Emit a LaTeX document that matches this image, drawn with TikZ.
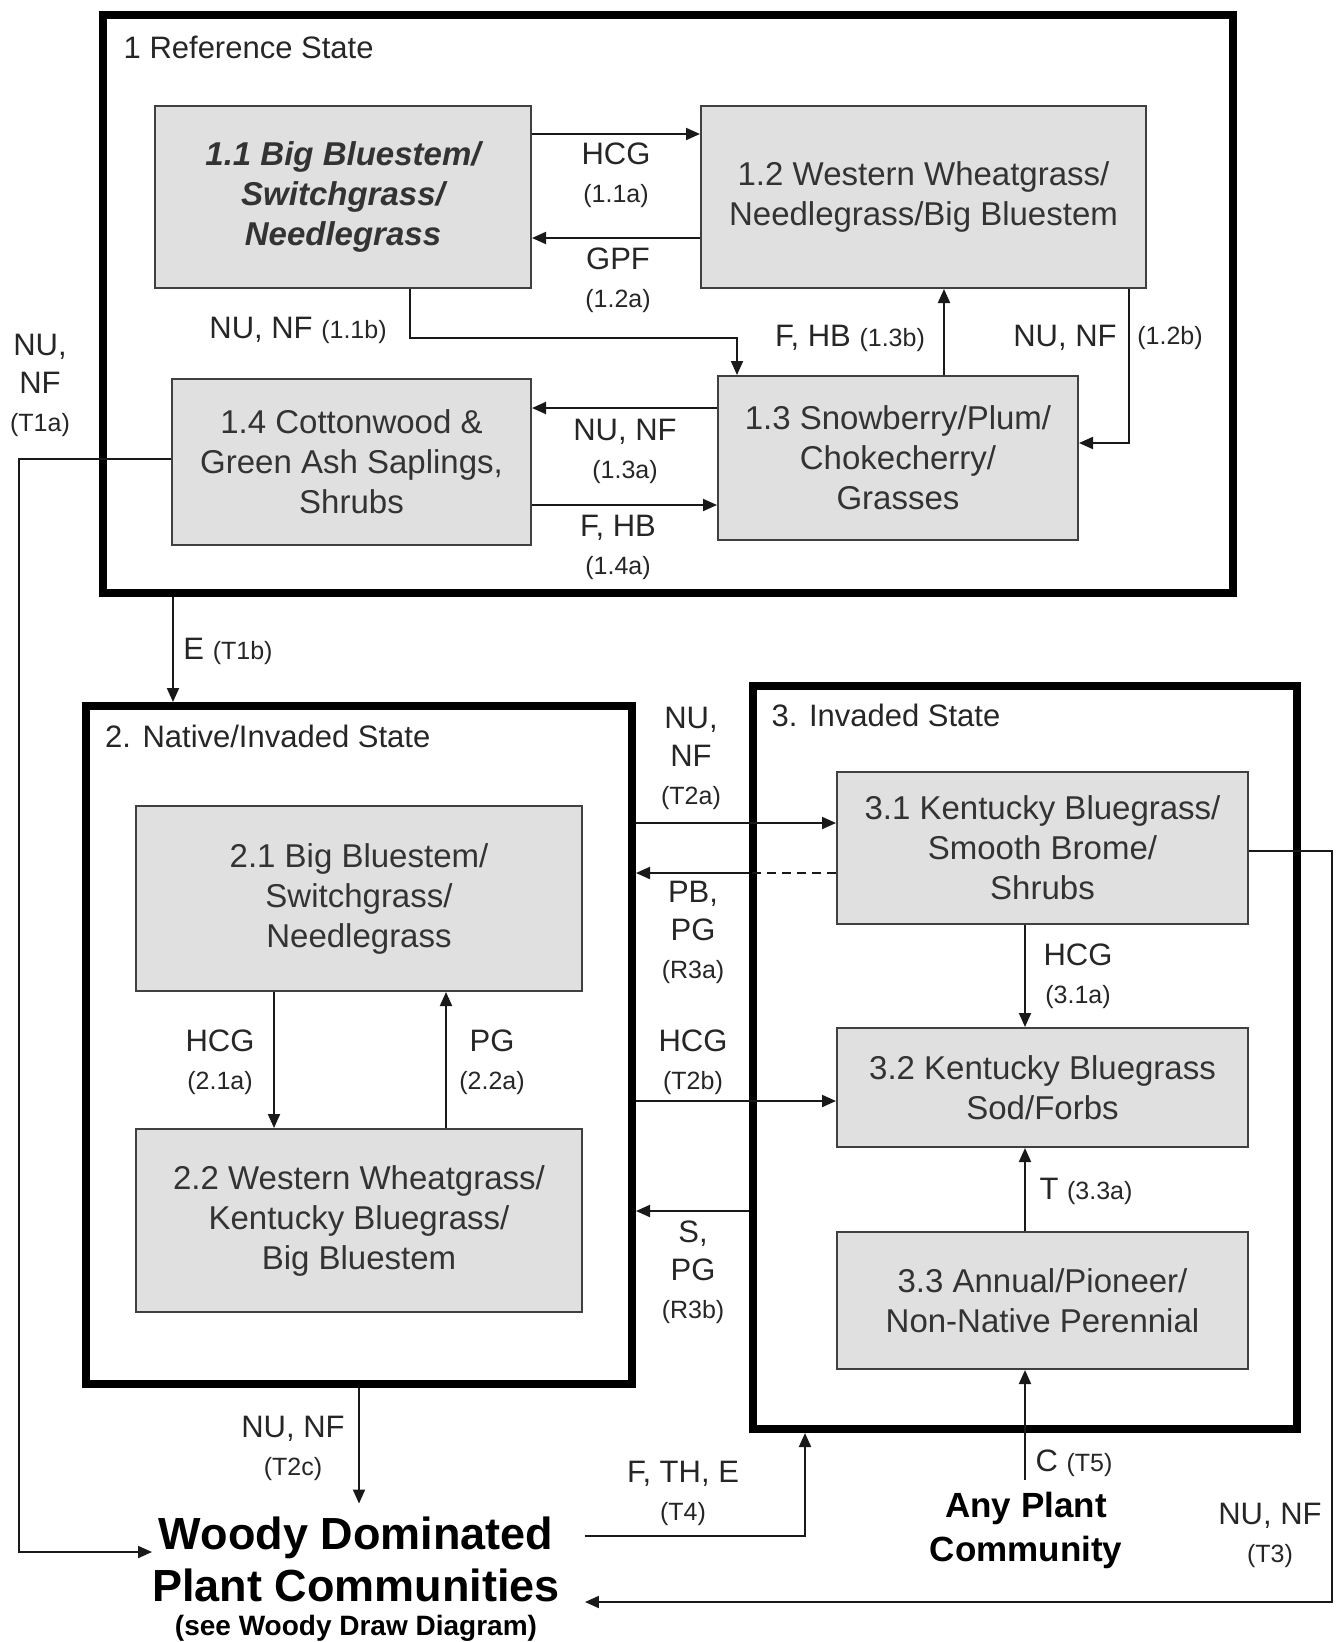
\documentclass[tikz,border=0pt]{standalone}
\usepackage{fontspec}
\setmainfont{Liberation Sans}
\usepackage{tikz}
\usetikzlibrary{arrows.meta}
\definecolor{boxgray}{RGB}{224,224,224}
\newcommand{\pcode}[1]{{\fontsize{25}{30}\selectfont #1}}
\tikzstyle{edge}=[
	-,
	draw=black!90,
	line width=2pt
]
\tikzstyle{trans}=[
	edge,
	-{Triangle[length=14pt,width=12pt]}
]
\tikzstyle{statebox}=[
	rectangle,
	draw=black,
	line width=8pt,
	inner sep=0pt
]
\tikzstyle{community}=[
	rectangle,
	draw=black!75,
	line width=2pt,
	fill=boxgray,
	align=center,
	text=black!80,
	font=\fontsize{33}{40}\selectfont
]
\tikzstyle{lbl}=[
	align=center,
	inner sep=0pt,
	text=black!85,
	font=\fontsize{31}{38}\selectfont
]
\tikzstyle{statetitle}=[
	anchor=west,
	inner sep=0pt,
	text=black!85,
	font=\fontsize{31}{38}\selectfont
]
\begin{document}
\begin{tikzpicture}[x=1pt,y=-1pt]
\useasboundingbox (0,0) rectangle (1340,1642);
% states
\node[statebox, minimum width=1130pt, minimum height=578pt] (s1) at (668,304) {};
\node[statebox, minimum width=546pt, minimum height=678pt] (s2) at (359,1045) {};
\node[statebox, minimum width=544pt, minimum height=743pt] (s3) at (1025,1057.5) {};
\node[statetitle] (t1) at (123.5,47) {1 Reference State};
\node[statetitle] (t2) at (105,736) {2. Native/Invaded State};
\node[statetitle] (t3) at (771.5,715) {3. Invaded State};

% communities
\node[community, font=\fontsize{33}{40}\selectfont\bfseries\itshape, minimum width=376pt, minimum height=182pt] (11) at (343,197) {1.1 Big Bluestem/\\Switchgrass/\\Needlegrass};
\node[community, minimum width=445pt, minimum height=182pt] (12) at (923.5,197) {1.2 Western Wheatgrass/\\Needlegrass/Big Bluestem};
\node[community, minimum width=360pt, minimum height=164pt] (13) at (898,458) {1.3 Snowberry/Plum/\\Chokecherry/\\Grasses};
\node[community, minimum width=359pt, minimum height=166pt] (14) at (351.5,462) {1.4 Cottonwood \&\\Green Ash Saplings,\\Shrubs};
\node[community, minimum width=446pt, minimum height=185pt] (21) at (359,898.5) {2.1 Big Bluestem/\\Switchgrass/\\Needlegrass};
\node[community, minimum width=446pt, minimum height=183pt] (22) at (359,1220.5) {2.2 Western Wheatgrass/\\Kentucky Bluegrass/\\Big Bluestem};
\node[community, minimum width=411pt, minimum height=152pt] (31) at (1042.5,848) {3.1 Kentucky Bluegrass/\\Smooth Brome/\\Shrubs};
\node[community, minimum width=411pt, minimum height=119pt] (32) at (1042.5,1087.5) {3.2 Kentucky Bluegrass\\Sod/Forbs};
\node[community, minimum width=411pt, minimum height=137pt] (33) at (1042.5,1300.5) {3.3 Annual/Pioneer/\\Non-Native Perennial};

\node[inner xsep=0pt, inner ysep=13pt, align=center, font=\fontsize{45}{52}\selectfont\bfseries] (w) at (356,1579) {Woody Dominated\\Plant Communities\\[-18pt]{\fontsize{28}{34}\selectfont (see Woody Draw Diagram)}};
\coordinate (wr) at ([xshift=25pt]w.east);
\node[inner xsep=0pt, inner ysep=12pt, align=center, font=\fontsize{35}{44}\selectfont\bfseries] (any) at (1026,1530) {Any Plant\\Community};

% transitions
\draw[trans] (11.east |- 0,134) -- (12.west |- 0,134);
\draw[trans] (12.west |- 0,238) -- (11.east |- 0,238);
\draw[trans] (11.south -| 410,0) |- (737,338) -- (13.north -| 737,0);
\draw[trans] (13.north -| 944,0) -- (12.south -| 944,0);
\draw[trans] (12.south -| 1128.5,0) |- (13.east |- 0,443);
\draw[trans] (13.west |- 0,408) -- (14.east |- 0,408);
\draw[trans] (14.east |- 0,505) -- (13.west |- 0,505);
\draw[trans] (14.west |- 0,459) -| (19,1552) -- (w.west |- 0,1552);
\draw[trans] (s1.south -| 173,0) -- (s2.north -| 173,0);
\draw[trans] (21.south -| 274,0) -- (22.north -| 274,0);
\draw[trans] (22.north -| 446,0) -- (21.south -| 446,0);
\draw[trans] (s2.east |- 0,823) -- (31.west |- 0,823);
\draw[edge, dash pattern=on 9pt off 6pt] (31.west |- 0,873) -- (s3.west |- 0,873);
\draw[trans] (s3.west |- 0,873) -- (s2.east |- 0,873);
\draw[trans] (s2.east |- 0,1101) -- (32.west |- 0,1101);
\draw[trans] (s3.west |- 0,1211) -- (s2.east |- 0,1211);
\draw[trans] (31.south -| 1025,0) -- (32.north -| 1025,0);
\draw[trans] (33.north -| 1025,0) -- (32.south -| 1025,0);
\draw[trans] (any.north -| 1025,0) -- (33.south -| 1025,0);
\draw[trans] (31.east |- 0,851) -| (1332,1602) -- (wr |- 0,1602);
\draw[trans] (s2.south -| 359,0) -- (w.north -| 359,0);
\draw[trans] (wr |- 0,1536) -| (s3.south -| 805,0);

% labels
\node[lbl] (l11a) at (616,175) {HCG\\\pcode{(1.1a)}};
\node[lbl] (l12a) at (618,280.5) {GPF\\\pcode{(1.2a)}};
\node[lbl] (l11b) at (298,330) {NU, NF \pcode{(1.1b)}};
\node[lbl] (l13b) at (850,338) {F, HB \pcode{(1.3b)}};
\node[lbl] (l12b) at (1065,338) {NU, NF};
\node[lbl] (l12c) at (1170,338) {\pcode{(1.2b)}};
\node[lbl] (l13a) at (625,451) {NU, NF\\\pcode{(1.3a)}};
\node[lbl] (l14a) at (618,547.5) {F, HB\\\pcode{(1.4a)}};
\node[lbl] (lt1a) at (40,385) {NU,\\NF\\\pcode{(T1a)}};
\node[lbl] (lt1b) at (228,651) {E \pcode{(T1b)}};
\node[lbl] (l21a) at (220,1062.5) {HCG\\\pcode{(2.1a)}};
\node[lbl] (l22a) at (492,1062.5) {PG\\\pcode{(2.2a)}};
\node[lbl] (lt2a) at (691,758) {NU,\\NF\\\pcode{(T2a)}};
\node[lbl] (lr3a) at (693,932) {PB,\\PG\\\pcode{(R3a)}};
\node[lbl] (lt2b) at (693,1062.5) {HCG\\\pcode{(T2b)}};
\node[lbl] (lr3b) at (693,1272) {S,\\PG\\\pcode{(R3b)}};
\node[lbl] (l31a) at (1078,976) {HCG\\\pcode{(3.1a)}};
\node[lbl] (l33a) at (1086,1191) {T \pcode{(3.3a)}};
\node[lbl] (lt5) at (1074,1463.6) {C \pcode{(T5)}};
\node[lbl] (lt2c) at (293,1448.5) {NU, NF\\\pcode{(T2c)}};
\node[lbl] (lt4) at (683,1493) {F, TH, E\\\pcode{(T4)}};
\node[lbl] (lt3) at (1270,1535.5) {NU, NF\\\pcode{(T3)}};
\end{tikzpicture}
\end{document}
